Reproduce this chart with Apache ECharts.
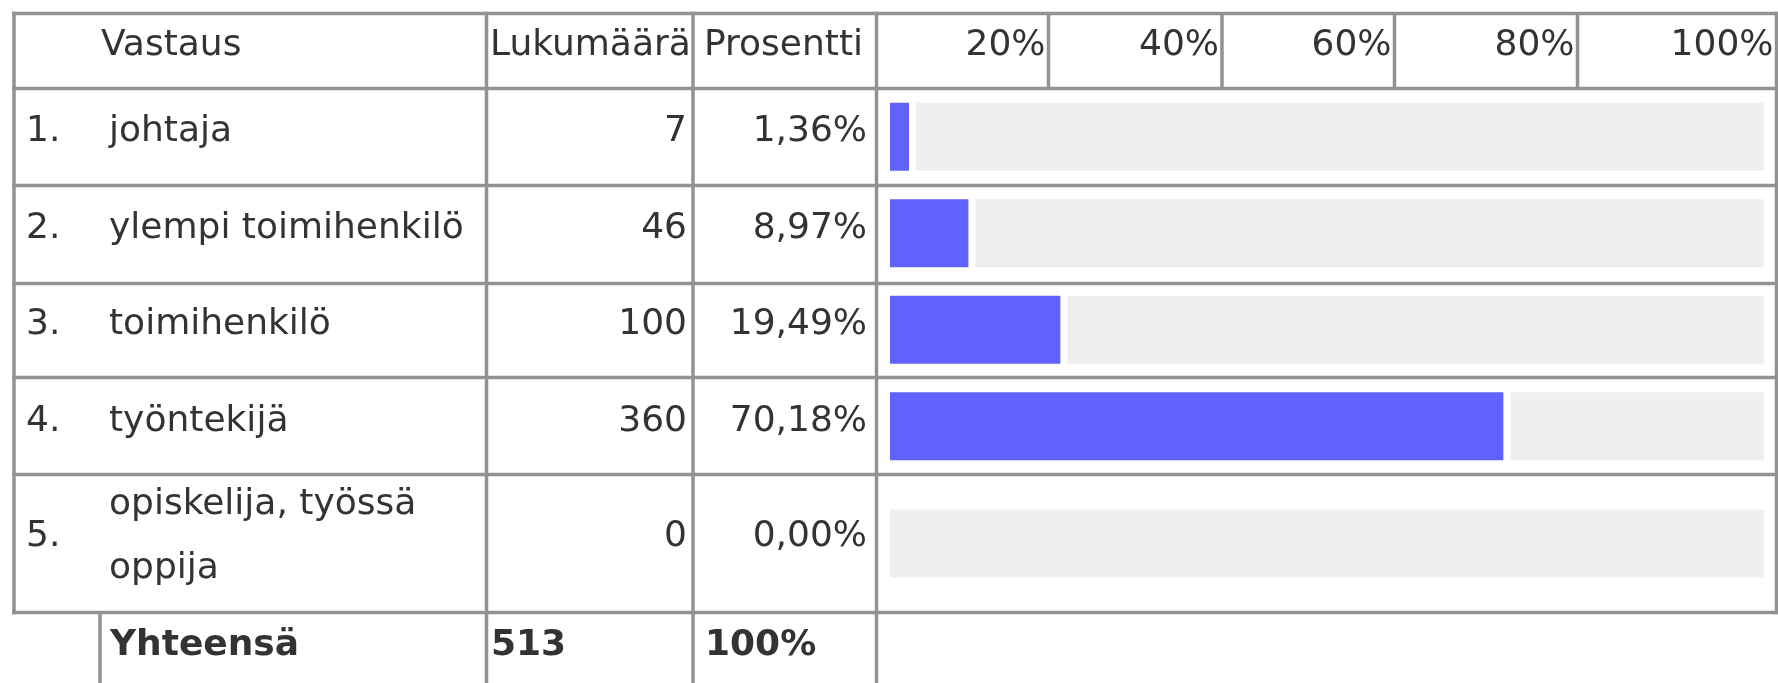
<!DOCTYPE html>
<html><head><meta charset="utf-8">
<script src="https://cdn.jsdelivr.net/npm/echarts@6/dist/echarts.min.js"></script>
<style>html,body{margin:0;padding:0;background:#fff}#c{width:1778px;height:683px}</style>
</head><body><div id="c"></div>
<script>
// ---- data ----
const headers = ['Vastaus', 'Lukumäärä', 'Prosentti'];
const scaleLabels = ['20%', '40%', '60%', '80%', '100%'];
const categories = ['johtaja', 'ylempi toimihenkilö', 'toimihenkilö', 'työntekijä', 'opiskelija, työssä oppija'];
const counts = [7, 46, 100, 360, 0];
const percents = [1.36, 8.97, 19.49, 70.18, 0.00];
const totalLabel = 'Yhteensä';
const totalPercentLabel = '100%';

// ---- style / layout ----
const FONT = 'DejaVu Sans';
const FS = 36;
const TXT = '#333333';
const LINE = '#929292';
const BLUE = '#6161ff';
const GRAY = '#efefef';
const BAR_H = 68, GAP = 7, MIN_BAR = 19;
const TRACK_L = 890, TRACK_W = 874;
const LW = 3.5;
const hLines = [13.5, 88.5, 185.5, 283.5, 377.5, 474.5, 612.5];
const vLines = [14, 486.5, 693, 876.5, 1776.5];
const headerCols = [876.5, 1048.5, 1222, 1394.5, 1577.5, 1776.5];
const footerCols = [100, 486.5, 693, 876.5];

const fmtPct = v => v.toFixed(2).replace('.', ',') + '%';

const blocks = [
  { rows: [0, 1, 2, 3], top: hLines[1], bottom: hLines[5], textShift: -5 },
  { rows: [4], top: hLines[5], bottom: hLines[6], textShift: -6.5 }
];

const grid = [], xAxis = [], yAxis = [], series = [];
const baseLabel = (extra) => Object.assign({
  fontFamily: FONT, fontSize: FS, color: TXT, margin: 0, interval: 0
}, extra);
const hiddenParts = { axisLine: { show: false }, axisTick: { show: false }, splitLine: { show: false } };

blocks.forEach((b) => {
  const cats = b.rows.map(String);
  // bar grid
  const gBar = grid.length;
  grid.push({ left: TRACK_L, width: TRACK_W, top: b.top, height: b.bottom - b.top });
  xAxis.push({ type: 'value', gridIndex: gBar, min: 0, max: 100, show: false });
  const yBar = yAxis.length;
  yAxis.push({ type: 'category', gridIndex: gBar, data: cats, inverse: true, show: false });

  // text grid (same rows, text baseline tuned)
  const gTxt = grid.length;
  grid.push({ left: TRACK_L, width: TRACK_W, top: b.top + b.textShift, height: b.bottom - b.top });
  xAxis.push({ type: 'value', gridIndex: gTxt, min: 0, max: 100, show: false });
  const axisDefs = [
    { off: TRACK_L - 109, align: 'left', fmt: v => categories[+v], extra: { width: 370, overflow: 'break', lineHeight: 64 } },
    { off: TRACK_L - 26, align: 'left', fmt: v => (+v + 1) + '.' },
    { off: TRACK_L - 687, align: 'right', fmt: v => String(counts[+v]) },
    { off: TRACK_L - 867, align: 'right', fmt: v => fmtPct(percents[+v]) }
  ];
  axisDefs.forEach(d => {
    yAxis.push(Object.assign({
      type: 'category', gridIndex: gTxt, data: cats, inverse: true, position: 'left', offset: d.off,
      axisLabel: baseLabel(Object.assign({ align: d.align, formatter: d.fmt }, d.extra || {}))
    }, hiddenParts));
  });

  series.push({
    type: 'bar', xAxisIndex: gBar, yAxisIndex: yBar, silent: true, z: 3,
    barWidth: BAR_H, barMinHeight: MIN_BAR,
    itemStyle: { color: BLUE },
    data: b.rows.map(i => percents[i] > 0 ? percents[i] : '-')
  });
  series.push({
    type: 'custom', xAxisIndex: gBar, yAxisIndex: yBar, silent: true, z: 2,
    encode: { x: 0, y: 1 },
    data: b.rows.map((i, j) => [percents[i], j]),
    renderItem: (params, api) => {
      const v = api.value(0), c = api.value(1);
      const p0 = api.coord([0, c]);
      const p100 = api.coord([100, c]);
      let start = p0[0];
      if (v > 0) start = Math.max(api.coord([v, c])[0], p0[0] + MIN_BAR) + GAP;
      return { type: 'rect', shape: { x: start, y: p0[1] - BAR_H / 2, width: p100[0] - start, height: BAR_H },
               style: { fill: GRAY } };
    }
  });
});

// ---- table rules & header/footer text ----
const graphic = [];
const hRect = (y, x1, x2) => graphic.push({ type: 'rect', silent: true, z: 10,
  shape: { x: x1, y: y - LW / 2, width: x2 - x1, height: LW }, style: { fill: LINE } });
const vRect = (x, y1, y2) => graphic.push({ type: 'rect', silent: true, z: 10,
  shape: { x: x - LW / 2, y: y1, width: LW, height: y2 - y1 }, style: { fill: LINE } });

hLines.forEach(y => hRect(y, 12, 1778));
vLines.forEach(x => vRect(x, hLines[0] - LW / 2, hLines[6] + LW / 2));
headerCols.slice(1, -1).forEach(x => vRect(x, hLines[0], hLines[1]));
footerCols.forEach(x => vRect(x, hLines[6], 683));

const txt = (s, x, y, align, bold) => graphic.push({ type: 'text', silent: true, z: 11, x: x, y: y,
  style: { text: s, fill: TXT, font: (bold ? 'bold ' : '') + FS + 'px "' + FONT + '"', textAlign: align, textVerticalAlign: 'middle' } });

const headY = 46;
txt(headers[0], 101, headY, 'left');
txt(headers[1], 490, headY, 'left');
txt(headers[2], 704, headY, 'left');
scaleLabels.forEach((s, k) => txt(s, headerCols[k + 1] - 3, headY, 'right'));

const footY = 646;
const total = counts.reduce((a, b) => a + b, 0);
txt(totalLabel, 110, footY, 'left', true);
txt(String(total), 491, footY, 'left', true);
txt(totalPercentLabel, 705, footY, 'left', true);

const chart = echarts.init(document.getElementById('c'), null, { renderer: 'canvas' });
chart.setOption({
  backgroundColor: '#ffffff',
  animation: false,
  grid, xAxis, yAxis, series, graphic
});
</script>
</body></html>
